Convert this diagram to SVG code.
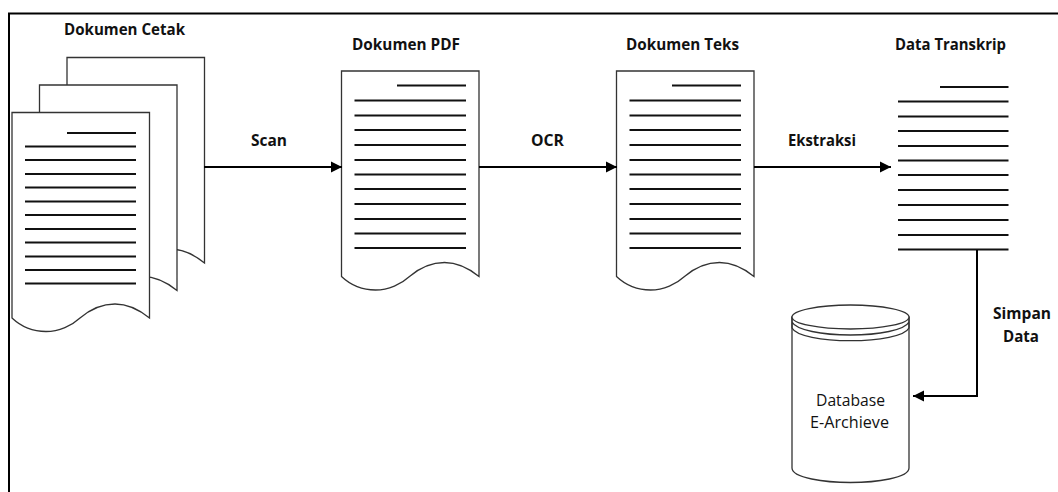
<svg xmlns="http://www.w3.org/2000/svg" width="1058" height="492" viewBox="0 0 1058 492">
<style>
.doc{fill:#fff;stroke:#333;stroke-width:1.3}
.tl{fill:none;stroke:#111;stroke-width:2}
.conn{fill:none;stroke:#000;stroke-width:2}
.b{font-family:"Open Sans","Noto Sans",sans-serif;font-weight:700;font-size:15.5px;fill:#111;text-anchor:middle}
.r{font-family:"Open Sans","Noto Sans",sans-serif;font-size:15.5px;fill:#111;text-anchor:middle}
</style>
<defs>
<marker id="arr" markerUnits="userSpaceOnUse" markerWidth="12" markerHeight="12" refX="11" refY="6" orient="auto"><path d="M0 0.500L11 6L0 11.500Z" fill="#000"/></marker>
<path id="page" d="M0 0H137.500V205.500C127 197 115 191.500 103 191.500C90 191.500 78 197 68 205.500C60 213 47 219 34 219C21 219 9 214 0 205.500Z"/>
</defs>
<rect width="1058" height="492" fill="#fff"/>
<path d="M9 492V13.500H1058" fill="none" stroke="#000" stroke-width="2"/>
<g id="dokumen-cetak">
<text class="b" x="124.500" y="35" textLength="121" lengthAdjust="spacingAndGlyphs">Dokumen Cetak</text>
<use href="#page" x="67" y="57.500" class="doc"/>
<use href="#page" x="39.500" y="85" class="doc"/>
<use href="#page" x="12" y="112.500" class="doc"/>
<path class="tl" d="M67 133H136M25 146.500H136M25 160H136M25 174H136M25 187.500H136M25 201.500H136M25 215H136M25 229H136M25 242.500H136M25 256.500H136M25 270H136M25 283.500H136"/>
</g>
<g id="dokumen-pdf">
<text class="b" x="406" y="49.500" textLength="108" lengthAdjust="spacingAndGlyphs">Dokumen PDF</text>
<use href="#page" x="341.500" y="71" class="doc"/>
<path class="tl" d="M397 85.500H466M354.500 100.500H466M354.500 115.500H466M354.500 130H466M354.500 145H466M354.500 160H466M354.500 174.500H466M354.500 189H466M354.500 204H466M354.500 219H466M354.500 233.500H466M354.500 248H466"/>
</g>
<g id="dokumen-teks">
<text class="b" x="682.500" y="49.500" textLength="113" lengthAdjust="spacingAndGlyphs">Dokumen Teks</text>
<use href="#page" x="616.500" y="71" class="doc"/>
<path class="tl" d="M672 85.500H741M629.500 100.500H741M629.500 115.500H741M629.500 130H741M629.500 145H741M629.500 160H741M629.500 174.500H741M629.500 189H741M629.500 204H741M629.500 219H741M629.500 233.500H741M629.500 248H741"/>
</g>
<g id="data-transkrip">
<text class="b" x="950.500" y="49.500" textLength="111" lengthAdjust="spacingAndGlyphs">Data Transkrip</text>
<path class="tl" d="M940 87H1008.500M898 101.500H1008.500M898 116.500H1008.500M898 131H1008.500M898 146H1008.500M898 160.500H1008.500M898 175H1008.500M898 190H1008.500M898 205H1008.500M898 220H1008.500M898 235H1008.500M898 249.500H1008.500"/>
</g>
<g id="database">
<path class="doc" d="M792 317V468C792 478 825 482.500 850.500 482.500C876 482.500 909 478 909 468V317Z"/>
<path d="M792 317V322C796 330 822 335 850.500 335C879 335 905 330 909 322V317M792 322V328C796 336 822 340.700 850.500 340.700C879 340.700 905 336 909 328V322" fill="none" stroke="#333" stroke-width="1.300"/>
<ellipse class="doc" cx="850.500" cy="317" rx="58.500" ry="12"/>
<text class="r" x="850.500" y="405.700" textLength="69" lengthAdjust="spacingAndGlyphs">Database</text>
<text class="r" x="849.500" y="428" textLength="79" lengthAdjust="spacingAndGlyphs">E-Archieve</text>
</g>
<g id="connectors">
<path class="conn" d="M204 167H342" marker-end="url(#arr)"/>
<path class="conn" d="M479 167H617" marker-end="url(#arr)"/>
<path class="conn" d="M754 167H891" marker-end="url(#arr)"/>
<path class="conn" d="M977 250V396H913" marker-end="url(#arr)"/>
<text class="b" x="269" y="145.500" textLength="36" lengthAdjust="spacingAndGlyphs">Scan</text>
<text class="b" x="547.500" y="145.500" textLength="33" lengthAdjust="spacingAndGlyphs">OCR</text>
<text class="b" x="822" y="145.500" textLength="68" lengthAdjust="spacingAndGlyphs">Ekstraksi</text>
<text class="b" x="1022" y="318.700" textLength="58" lengthAdjust="spacingAndGlyphs">Simpan</text>
<text class="b" x="1021" y="341.700" textLength="36" lengthAdjust="spacingAndGlyphs">Data</text>
</g>
</svg>
